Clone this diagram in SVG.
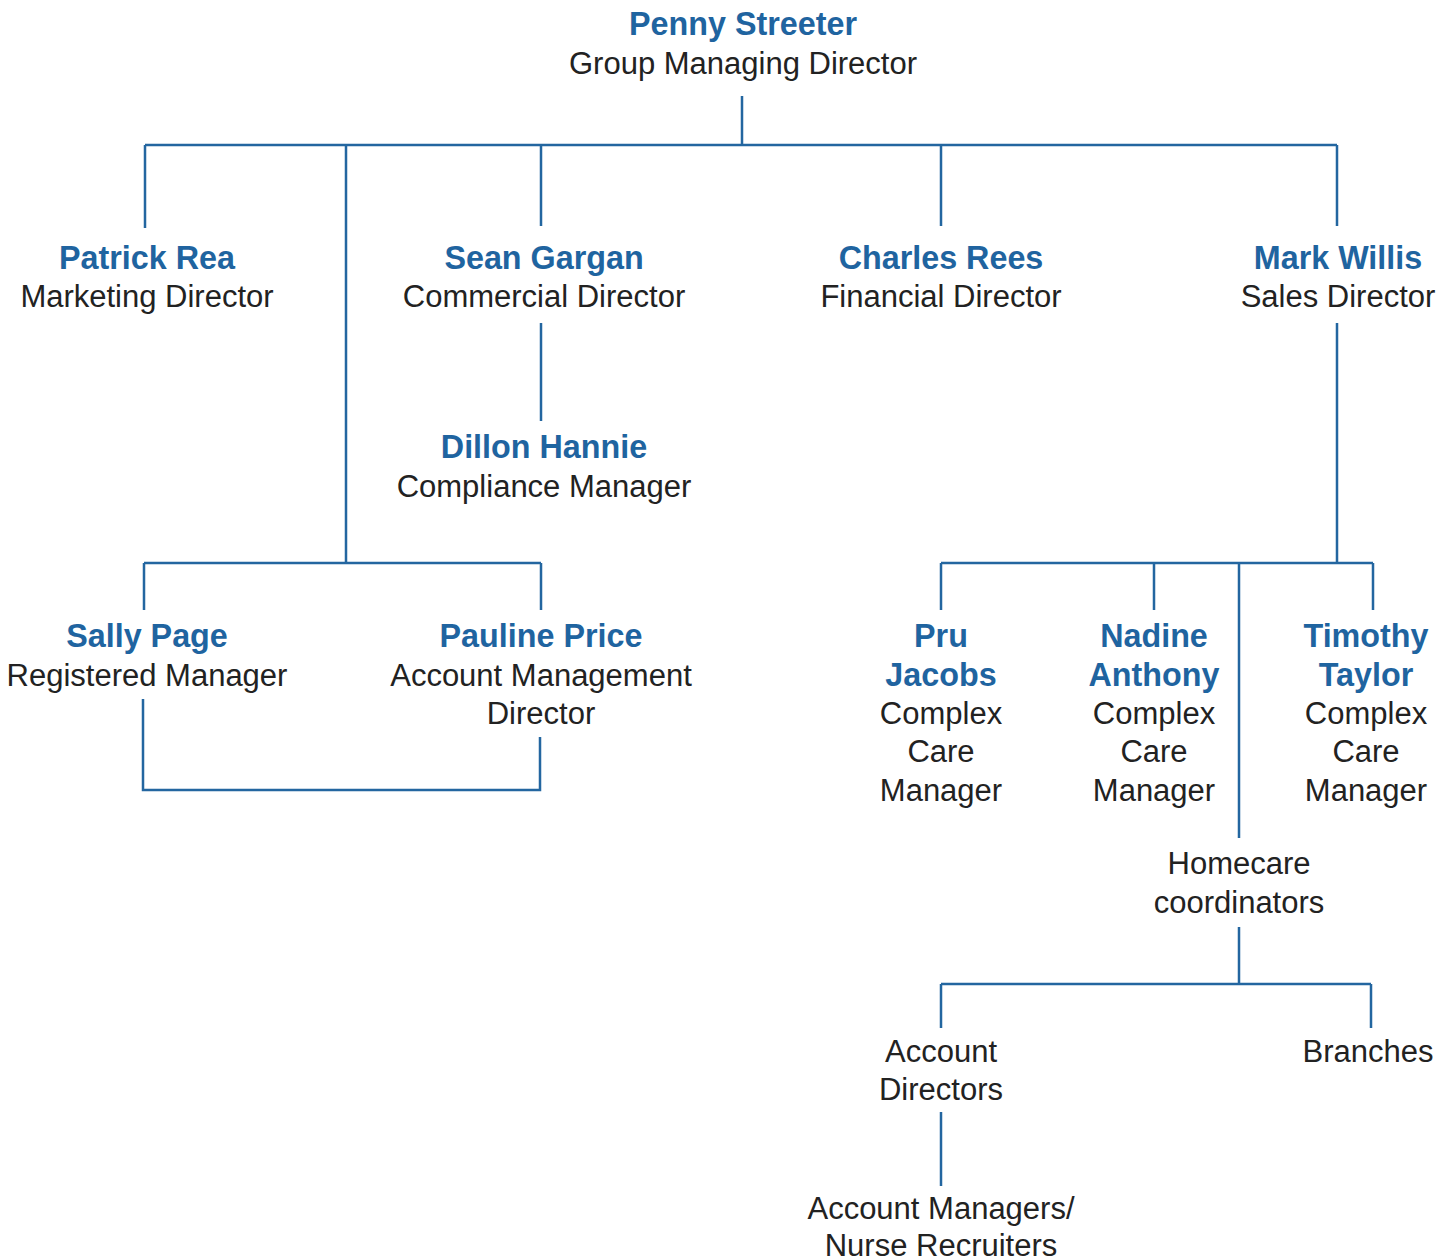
<svg xmlns="http://www.w3.org/2000/svg" width="1453" height="1260" viewBox="0 0 1453 1260">
<style>
.n{font-family:"Liberation Sans",Arial,sans-serif;font-weight:bold;font-size:32.3px;fill:#1f64a0;text-anchor:middle}
.t{font-family:"Liberation Sans",Arial,sans-serif;font-size:31px;fill:#222;text-anchor:middle}
.c{fill:none;stroke:#2366a0;stroke-width:2.5}
</style>
<rect width="1453" height="1260" fill="#fff"/>
<g id="connectors" class="c">
<path d="M742,96V145M145,145H1337M145,145V228M346,145V563M541,145V226M941,145V226M1337,145V226"/>
<path d="M541,323V421"/>
<path d="M144,563H541M144,563V610M541,563V610"/>
<path d="M143,699V790H540V737"/>
<path d="M1337,323V563M941,563H1373M941,563V610M1154,563V610M1373,563V610M1239,563V838"/>
<path d="M1239,927V984M941,984H1371M941,984V1028M1371,984V1028"/>
<path d="M941,1112V1186"/>
</g>
<g id="penny"><text class="n" x="743" y="35">Penny Streeter</text><text class="t" x="743" y="74">Group Managing Director</text></g>
<g id="patrick"><text class="n" x="147" y="269">Patrick Rea</text><text class="t" x="147" y="307">Marketing Director</text></g>
<g id="sean"><text class="n" x="544" y="269">Sean Gargan</text><text class="t" x="544" y="307">Commercial Director</text></g>
<g id="charles"><text class="n" x="941" y="269">Charles Rees</text><text class="t" x="941" y="307">Financial Director</text></g>
<g id="mark"><text class="n" x="1338" y="269">Mark Willis</text><text class="t" x="1338" y="307">Sales Director</text></g>
<g id="dillon"><text class="n" x="544" y="458">Dillon Hannie</text><text class="t" x="544" y="497">Compliance Manager</text></g>
<g id="sally"><text class="n" x="147" y="647">Sally Page</text><text class="t" x="147" y="686">Registered Manager</text></g>
<g id="pauline"><text class="n" x="541" y="647">Pauline Price</text><text class="t" x="541" y="686">Account Management</text><text class="t" x="541" y="724">Director</text></g>
<g id="pru"><text class="n" x="941" y="647">Pru</text><text class="n" x="941" y="686">Jacobs</text><text class="t" x="941" y="724">Complex</text><text class="t" x="941" y="762">Care</text><text class="t" x="941" y="801">Manager</text></g>
<g id="nadine"><text class="n" x="1154" y="647">Nadine</text><text class="n" x="1154" y="686">Anthony</text><text class="t" x="1154" y="724">Complex</text><text class="t" x="1154" y="762">Care</text><text class="t" x="1154" y="801">Manager</text></g>
<g id="timothy"><text class="n" x="1366" y="647">Timothy</text><text class="n" x="1366" y="686">Taylor</text><text class="t" x="1366" y="724">Complex</text><text class="t" x="1366" y="762">Care</text><text class="t" x="1366" y="801">Manager</text></g>
<g id="homecare"><text class="t" x="1239" y="874">Homecare</text><text class="t" x="1239" y="913">coordinators</text></g>
<g id="accdir"><text class="t" x="941" y="1062">Account</text><text class="t" x="941" y="1100">Directors</text></g>
<g id="branches"><text class="t" x="1368" y="1062">Branches</text></g>
<g id="accman"><text class="t" x="941" y="1219">Account Managers/</text><text class="t" x="941" y="1256">Nurse Recruiters</text></g>
</svg>
